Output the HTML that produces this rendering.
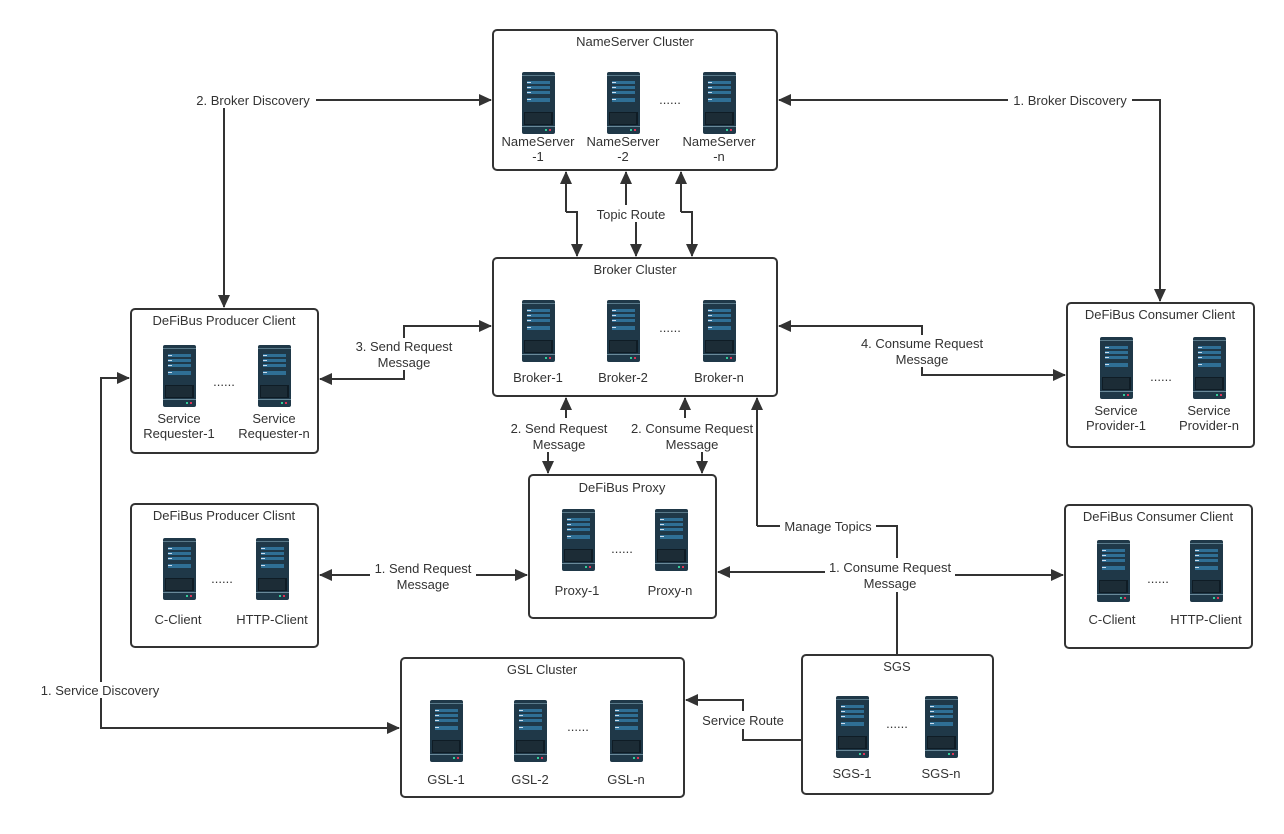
<!DOCTYPE html>
<html><head><meta charset="utf-8"><style>
html,body{margin:0;padding:0;background:#fff}
svg{display:block}
text{font-family:"Liberation Sans","DejaVu Sans",sans-serif;font-size:13px;fill:#333;text-anchor:middle}
.bg{fill:#fff}
.box{fill:#fff;stroke:#333;stroke-width:2}
.ln{fill:none;stroke:#333;stroke-width:2}
</style></head><body>
<svg width="1284" height="834" viewBox="0 0 1284 834" xmlns="http://www.w3.org/2000/svg">
<defs>
<marker id="b" markerWidth="13" markerHeight="12" refX="12" refY="6" orient="auto" markerUnits="userSpaceOnUse" viewBox="0 0 13 12">
<path d="M0,0 L13,6 L0,12 z" fill="#333"/></marker>
<g id="s">
<rect x="0" y="0" width="33" height="62" rx="2" fill="#1f3848"/>
<rect x="0" y="3" width="33" height="1" fill="#5a7a8a"/>
<rect x="5" y="9" width="23" height="3" fill="#2f6f95"/>
<rect x="5" y="14" width="23" height="3" fill="#2f6f95"/>
<rect x="5" y="19" width="23" height="3" fill="#2f6f95"/>
<rect x="5" y="26" width="23" height="4" fill="#2f6f95"/>
<rect x="5" y="10" width="4" height="1" fill="#cde"/>
<rect x="5" y="15" width="4" height="1" fill="#cde"/>
<rect x="5" y="20" width="4" height="1" fill="#cde"/>
<rect x="5" y="27" width="4" height="1" fill="#cde"/>
<rect x="2" y="40" width="29" height="13" fill="#0f1c25"/>
<path d="M4,41V52M6,41V52M8,41V52M10,41V52M12,41V52M14,41V52M16,41V52M18,41V52M20,41V52M22,41V52M24,41V52M26,41V52M28,41V52" stroke="#2a3c48" stroke-width="1"/>
<rect x="0" y="54" width="33" height="1" fill="#6a8a9a"/>
<rect x="23" y="57" width="2" height="2" fill="#3c9"/>
<rect x="27" y="57" width="2" height="2" fill="#d35"/>
</g>
</defs>

<!-- connectors -->
<path class="ln" d="M316,100 H491" marker-end="url(#b)"/>
<path class="ln" d="M224,108 V307" marker-end="url(#b)"/>
<path class="ln" d="M1008,100 H779" marker-end="url(#b)"/>
<path class="ln" d="M1132,100 H1160 V301" marker-end="url(#b)"/>
<path class="ln" d="M566,212 V172" marker-end="url(#b)"/>
<path class="ln" d="M566,212 H577 V256" marker-end="url(#b)"/>
<path class="ln" d="M626,205 V172" marker-end="url(#b)"/>
<path class="ln" d="M636,222 V256" marker-end="url(#b)"/>
<path class="ln" d="M681,212 V172" marker-end="url(#b)"/>
<path class="ln" d="M681,212 H692 V256" marker-end="url(#b)"/>
<path class="ln" d="M404,338 V326 H491" marker-end="url(#b)"/>
<path class="ln" d="M404,370 V379 H320" marker-end="url(#b)"/>
<path class="ln" d="M922,335 V326 H779" marker-end="url(#b)"/>
<path class="ln" d="M922,367 V375 H1065" marker-end="url(#b)"/>
<path class="ln" d="M566,418 V398" marker-end="url(#b)"/>
<path class="ln" d="M548,452 V473" marker-end="url(#b)"/>
<path class="ln" d="M685,418 V398" marker-end="url(#b)"/>
<path class="ln" d="M702,452 V473" marker-end="url(#b)"/>
<path class="ln" d="M757,526 V398" marker-end="url(#b)"/>
<path class="ln" d="M757,526 H897 V655"/>
<path class="ln" d="M897,572 H718" marker-end="url(#b)"/>
<path class="ln" d="M897,575 H1063" marker-end="url(#b)"/>
<path class="ln" d="M423,575 H320" marker-end="url(#b)"/>
<path class="ln" d="M423,575 H527" marker-end="url(#b)"/>
<path class="ln" d="M101,690 V378 H129" marker-end="url(#b)"/>
<path class="ln" d="M101,690 V728 H399" marker-end="url(#b)"/>
<path class="ln" d="M802,740 H743 V700 H686" marker-end="url(#b)"/>

<!-- label backgrounds -->
<rect class="bg" x="192" y="92" width="124" height="16"/>
<rect class="bg" x="1008" y="92" width="124" height="16"/>
<rect class="bg" x="592" y="206" width="78" height="16"/>
<rect class="bg" x="352" y="338" width="104" height="32"/>
<rect class="bg" x="857" y="335" width="130" height="32"/>
<rect class="bg" x="507" y="420" width="104" height="32"/>
<rect class="bg" x="629" y="420" width="126" height="32"/>
<rect class="bg" x="780" y="518" width="96" height="16"/>
<rect class="bg" x="825" y="558" width="130" height="34"/>
<rect class="bg" x="370" y="560" width="106" height="32"/>
<rect class="bg" x="35" y="682" width="130" height="16"/>
<rect class="bg" x="697" y="711" width="92" height="18"/>

<!-- connector labels -->
<text x="253" y="105">2. Broker Discovery</text>
<text x="1070" y="105">1. Broker Discovery</text>
<text x="631" y="219">Topic Route</text>
<text x="404" y="351">3. Send Request</text>
<text x="404" y="367">Message</text>
<text x="922" y="348">4. Consume Request</text>
<text x="922" y="364">Message</text>
<text x="559" y="433">2. Send Request</text>
<text x="559" y="449">Message</text>
<text x="692" y="433">2. Consume Request</text>
<text x="692" y="449">Message</text>
<text x="828" y="531">Manage Topics</text>
<text x="890" y="572">1. Consume Request</text>
<text x="890" y="588">Message</text>
<text x="423" y="573">1. Send Request</text>
<text x="423" y="589">Message</text>
<text x="100" y="695">1. Service Discovery</text>
<text x="743" y="725">Service Route</text>

<!-- NameServer -->
<rect class="box" x="493" y="30" width="284" height="140" rx="4"/>
<text x="635" y="46">NameServer Cluster</text>
<use href="#s" x="522" y="72"/><use href="#s" x="607" y="72"/><use href="#s" x="703" y="72"/>
<text x="670" y="104">......</text>
<text x="538" y="146">NameServer</text><text x="538" y="161">-1</text>
<text x="623" y="146">NameServer</text><text x="623" y="161">-2</text>
<text x="719" y="146">NameServer</text><text x="719" y="161">-n</text>

<!-- Broker -->
<rect class="box" x="493" y="258" width="284" height="138" rx="4"/>
<text x="635" y="274">Broker Cluster</text>
<use href="#s" x="522" y="300"/><use href="#s" x="607" y="300"/><use href="#s" x="703" y="300"/>
<text x="670" y="332">......</text>
<text x="538" y="382">Broker-1</text><text x="623" y="382">Broker-2</text><text x="719" y="382">Broker-n</text>

<!-- Producer Client -->
<rect class="box" x="131" y="309" width="187" height="144" rx="4"/>
<text x="224" y="325">DeFiBus Producer Client</text>
<use href="#s" x="163" y="345"/><use href="#s" x="258" y="345"/>
<text x="224" y="386">......</text>
<text x="179" y="423">Service</text><text x="179" y="438">Requester-1</text>
<text x="274" y="423">Service</text><text x="274" y="438">Requester-n</text>

<!-- Consumer Client -->
<rect class="box" x="1067" y="303" width="187" height="144" rx="4"/>
<text x="1160" y="319">DeFiBus Consumer Client</text>
<use href="#s" x="1100" y="337"/><use href="#s" x="1193" y="337"/>
<text x="1161" y="381">......</text>
<text x="1116" y="415">Service</text><text x="1116" y="430">Provider-1</text>
<text x="1209" y="415">Service</text><text x="1209" y="430">Provider-n</text>

<!-- Proxy -->
<rect class="box" x="529" y="475" width="187" height="143" rx="4"/>
<text x="622" y="492">DeFiBus Proxy</text>
<use href="#s" x="562" y="509"/><use href="#s" x="655" y="509"/>
<text x="622" y="553">......</text>
<text x="577" y="595">Proxy-1</text><text x="670" y="595">Proxy-n</text>

<!-- Producer Clisnt -->
<rect class="box" x="131" y="504" width="187" height="143" rx="4"/>
<text x="224" y="520">DeFiBus Producer Clisnt</text>
<use href="#s" x="163" y="538"/><use href="#s" x="256" y="538"/>
<text x="222" y="583">......</text>
<text x="178" y="624">C-Client</text><text x="272" y="624">HTTP-Client</text>

<!-- Consumer Client 2 -->
<rect class="box" x="1065" y="505" width="187" height="143" rx="4"/>
<text x="1158" y="521">DeFiBus Consumer Client</text>
<use href="#s" x="1097" y="540"/><use href="#s" x="1190" y="540"/>
<text x="1158" y="583">......</text>
<text x="1112" y="624">C-Client</text><text x="1206" y="624">HTTP-Client</text>

<!-- GSL -->
<rect class="box" x="401" y="658" width="283" height="139" rx="4"/>
<text x="542" y="674">GSL Cluster</text>
<use href="#s" x="430" y="700"/><use href="#s" x="514" y="700"/><use href="#s" x="610" y="700"/>
<text x="578" y="731">......</text>
<text x="446" y="784">GSL-1</text><text x="530" y="784">GSL-2</text><text x="626" y="784">GSL-n</text>

<!-- SGS -->
<rect class="box" x="802" y="655" width="191" height="139" rx="4"/>
<text x="897" y="671">SGS</text>
<use href="#s" x="836" y="696"/><use href="#s" x="925" y="696"/>
<text x="897" y="728">......</text>
<text x="852" y="778">SGS-1</text><text x="941" y="778">SGS-n</text>
</svg>
</body></html>
